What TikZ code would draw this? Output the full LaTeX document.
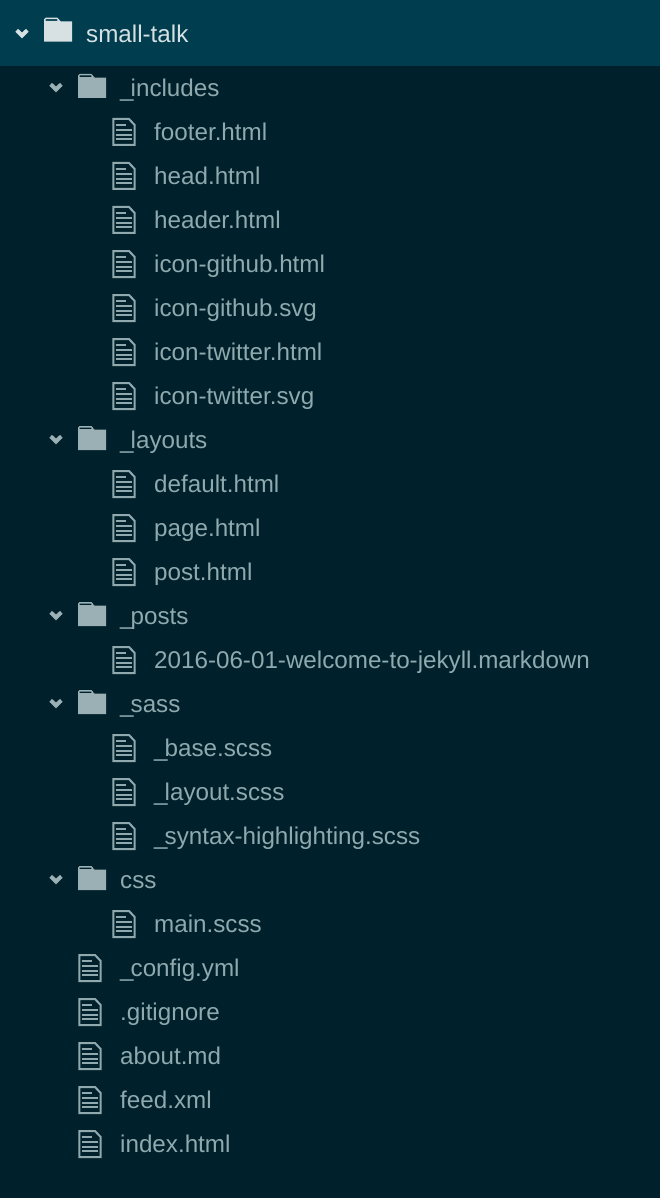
\documentclass[tikz,border=0pt]{standalone}
\usepackage{fontspec}
\setmainfont{Liberation Sans}
\usepackage{xcolor}
\usetikzlibrary{positioning}
\definecolor{treebg}{HTML}{00212B}
\definecolor{treebar}{HTML}{003D4E}
\definecolor{treetxt}{HTML}{8FA9AE}
\definecolor{treesel}{HTML}{D7E1E3}
\definecolor{treefld}{HTML}{9AB0B5}
\newcommand{\uscore}{\_\kern-3pt}

\begin{document}
\begin{tikzpicture}[
  x=1pt, y=-1pt,
  entry/.style={anchor=base west, inner sep=0pt, text=treetxt, font=\fontsize{24.2}{28}\selectfont},
  rootentry/.style={entry, text=treesel},
  foldericon/.pic={
    \fill[pic actions, even odd rule] (-14,-9) [rounded corners=1.7pt] -- (-14,-12.4) -- (1,-12.4)
      -- (1,-8.7) [sharp corners] -- (14,-8.7) -- (14,11.6) -- (-14,11.6) -- cycle
      (-12.4,-9.2) rectangle (-0.6,-10.9);
  },
  fileicon/.pic={
    \draw[treetxt, line width=2pt, line join=miter] (-10.7,-13) -- (5,-13) -- (10.7,-7) -- (10.7,13) -- (-10.7,13) -- cycle;
    \draw[treetxt, line width=1.8pt] (-8.3,-7.3) -- (1.7,-7.3);
    \draw[treetxt, line width=1.8pt] (-8.3,-1.7) -- (8.3,-1.7);
    \draw[treetxt, line width=1.8pt] (-8.3,2.7) -- (8.3,2.7);
    \draw[treetxt, line width=1.8pt] (-8.3,7.3) -- (8.3,7.3);
  },
  chevron/.pic={
    \draw[pic actions, line width=4pt, line cap=butt, line join=miter] (-5.3,-3.7) -- (0,1.5) -- (5.3,-3.7);
  }
]
\fill[treebg] (0,0) rectangle (660,1198);
\fill[treebar] (0,0) rectangle (660,66);

% Root folder
\pic[draw=treesel] (rootarrow) at (22,34) {chevron};
\pic[fill=treesel] (rootfolder) at (58,30) {foldericon};
\node[rootentry] (root) at (86,42.3) {small-talk};

% Folders
\foreach \y/\id/\name in {88/includes/\uscore includes, 440/layouts/\uscore layouts, 616/posts/\uscore posts,
    704/sass/\uscore sass, 880/css/css} {
  \pic[draw=treefld] (\id arrow) at (56,\y) {chevron};
  \pic[fill=treefld] (\id folder) at (92,\y-1.6) {foldericon};
  \node[entry] (\id) at (120,\y+8.3) {\name};
}

% Files inside folders
\foreach \y/\id/\name in {132/footer/footer.html, 176/head/head.html, 220/header/header.html,
    264/ghhtml/icon-github.html, 308/ghsvg/icon-github.svg, 352/twhtml/icon-twitter.html,
    396/twsvg/icon-twitter.svg, 484/default/default.html, 528/page/page.html, 572/post/post.html,
    660/welcome/2016-06-01-welcome-to-jekyll.markdown, 748/base/\uscore base.scss, 792/layout/\uscore layout.scss,
    836/syntax/\uscore syntax-highlighting.scss, 924/mainscss/main.scss} {
  \pic (\id icon) at (124,\y) {fileicon};
  \node[entry] (\id) at (154,\y+8.3) {\name};
}

% Files at the top level
\foreach \y/\id/\name in {968/config/\uscore config.yml, 1012/gitignore/.gitignore, 1056/about/about.md,
    1100/feed/feed.xml, 1144/index/index.html} {
  \pic (\id icon) at (90,\y) {fileicon};
  \node[entry] (\id) at (120,\y+8.3) {\name};
}
\end{tikzpicture}
\end{document}
